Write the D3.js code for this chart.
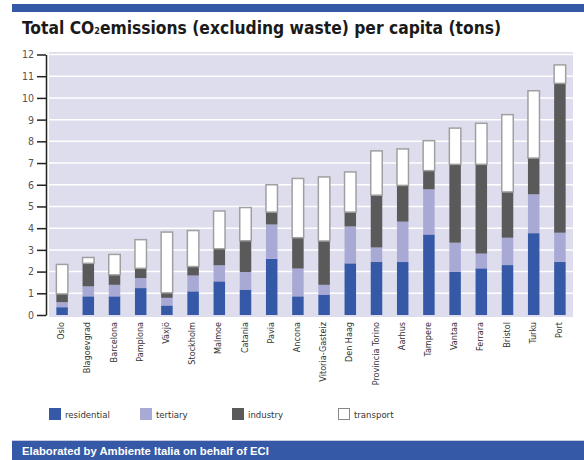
<!DOCTYPE html>
<html>
<head>
<meta charset="utf-8">
<script src="https://cdn.jsdelivr.net/npm/d3@7"></script>
<style>
  html, body { margin: 0; padding: 0; background: #fff; }
  svg { display: block; }
</style>
</head>
<body>
<div id="chart"></div>
<script>
// city names, in bar order
const cities = ['Oslo', 'Blagoevgrad', 'Barcelona', 'Pamplona', 'Växjö', 'Stockholm', 'Malmoe',
    'Catania', 'Pavia', 'Ancona', 'Vitoria-Gasteiz', 'Den Haag', 'Provincia Torino', 'Aarhus',
    'Tampere', 'Vantaa', 'Ferrara', 'Bristol', 'Turku', 'Port'];

// tons per capita, per sector
const residential = [0.36, 0.86, 0.86, 1.24, 0.44, 1.09, 1.55, 1.17, 2.59, 0.86,
    0.94, 2.38, 2.44, 2.44, 3.71, 2.00, 2.15, 2.30, 3.77, 2.44];
const tertiary = [0.23, 0.46, 0.53, 0.46, 0.35, 0.73, 0.74, 0.81, 1.58, 1.28,
    0.45, 1.70, 0.67, 1.86, 2.08, 1.33, 0.68, 1.26, 1.79, 1.35];
const industry = [0.38, 1.06, 0.46, 0.45, 0.23, 0.41, 0.76, 1.44, 0.57, 1.42,
    2.02, 0.66, 2.41, 1.67, 0.86, 3.61, 4.11, 2.11, 1.67, 6.88];
const transport = [1.36, 0.27, 0.94, 1.32, 2.80, 1.66, 1.74, 1.53, 1.26, 2.73,
    2.95, 1.85, 2.04, 1.68, 1.38, 1.67, 1.89, 3.56, 3.10, 0.85];

const yTicks = d3.range(0, 13);

const sectors = ['residential', 'tertiary', 'industry', 'transport'];
const fills = { residential: '#3559a6', tertiary: '#a9a9d5', industry: '#5a5a5a', transport: '#ffffff' };

const narrow = 'Liberation Sans Narrow, DejaVu Sans Condensed, sans-serif';

const width = 584, height = 460;
const svg = d3.select('#chart').append('svg')
    .attr('width', width)
    .attr('height', height);

// top stripe
svg.append('rect')
    .attr('x', 12).attr('y', 4)
    .attr('width', width - 12).attr('height', 8)
    .attr('fill', '#3559a6');

// title
const title = svg.append('text')
    .attr('x', 22).attr('y', 34)
    .attr('font-family', narrow)
    .attr('font-weight', 700)
    .attr('font-size', '17.3px')
    .attr('fill', '#1a1a1a');
title.append('tspan').text('Total CO');
title.append('tspan').attr('font-size', '9px').text('2');
title.append('tspan').text('emissions (excluding waste) per capita (tons)');

const plot = { left: 49, right: 573, top: 52, bottom: 317 };

const x = d3.scaleBand()
    .domain(cities)
    .range([plot.left, plot.right])
    .paddingInner(0.5)
    .paddingOuter(0.25);

const y = d3.scaleLinear()
    .domain([0, 12])
    .range([315, 54.5]);

// background
svg.append('rect')
    .attr('x', plot.left).attr('y', plot.top)
    .attr('width', plot.right - plot.left).attr('height', plot.bottom - plot.top)
    .attr('fill', '#dddded');

// gridlines
svg.append('g')
    .selectAll('line')
    .data(yTicks.filter(d => d > 0))
    .enter().append('line')
    .attr('x1', plot.left).attr('x2', plot.right)
    .attr('y1', d => y(d)).attr('y2', d => y(d))
    .attr('stroke', '#ffffff')
    .attr('stroke-width', 1.5);

// y axis
const yAxis = svg.append('g')
    .attr('transform', `translate(46,0)`)
    .call(d3.axisLeft(y).tickValues(yTicks).tickSize(9).tickSizeOuter(0).tickPadding(3));
yAxis.select('.domain').attr('stroke', '#222').attr('stroke-width', 1.5);
yAxis.selectAll('.tick line').attr('stroke', '#222').attr('stroke-width', 1.5);
yAxis.selectAll('.tick text')
    .attr('font-family', narrow)
    .attr('font-size', '10.5px')
    .attr('fill', '#555');

// stacked bars
const table = cities.map((c, i) => ({
    city: c,
    residential: residential[i],
    tertiary: tertiary[i],
    industry: industry[i],
    transport: transport[i]
}));
const stacked = d3.stack().keys(sectors)(table);

const bw = 13;
svg.append('g')
    .selectAll('g')
    .data(stacked)
    .enter().append('g')
    .attr('fill', d => fills[d.key])
    .attr('stroke', d => d.key === 'transport' ? '#a0a0a0' : 'none')
    .attr('stroke-width', 1.5)
    .selectAll('rect')
    .data(d => d)
    .enter().append('rect')
    .attr('x', d => x(d.data.city) + x.bandwidth() / 2 - bw / 2 + 0.75)
    .attr('y', d => y(d[1]))
    .attr('width', bw - 1.5)
    .attr('height', d => y(d[0]) - y(d[1]));

// category labels
svg.append('g')
    .selectAll('text')
    .data(cities)
    .enter().append('text')
    .attr('transform', d => `translate(${x(d) + x.bandwidth() / 2 + 2},322) rotate(-90)`)
    .attr('text-anchor', 'end')
    .attr('font-family', narrow)
    .attr('font-size', '9px')
    .attr('fill', '#333')
    .text(d => d);

// legend
const legendX = [49, 140, 232, 338];
const legend = svg.append('g')
    .selectAll('g')
    .data(sectors)
    .enter().append('g')
    .attr('transform', (d, i) => `translate(${legendX[i]},408)`);
legend.append('rect')
    .attr('x', d => d === 'transport' ? 0.5 : 0)
    .attr('y', d => d === 'transport' ? 0.5 : 0)
    .attr('width', d => d === 'transport' ? 11 : 12)
    .attr('height', d => d === 'transport' ? 11 : 12)
    .attr('fill', d => fills[d])
    .attr('stroke', d => d === 'transport' ? '#888' : 'none');
legend.append('text')
    .attr('x', 16).attr('y', 10)
    .attr('font-family', narrow)
    .attr('font-size', '9.5px')
    .attr('fill', '#333')
    .text(d => d);

// footer stripe
svg.append('rect')
    .attr('x', 12).attr('y', 440)
    .attr('width', width - 12).attr('height', 20)
    .attr('fill', '#3559a6');
svg.append('line')
    .attr('x1', 12).attr('x2', width)
    .attr('y1', 440.5).attr('y2', 440.5)
    .attr('stroke', '#c8cbe0');
svg.append('text')
    .attr('x', 22).attr('y', 455)
    .attr('font-family', 'Liberation Sans, sans-serif')
    .attr('font-weight', 700)
    .attr('font-size', '11.3px')
    .attr('fill', '#ffffff')
    .text('Elaborated by Ambiente Italia on behalf of ECI');
</script>
</body>
</html>
